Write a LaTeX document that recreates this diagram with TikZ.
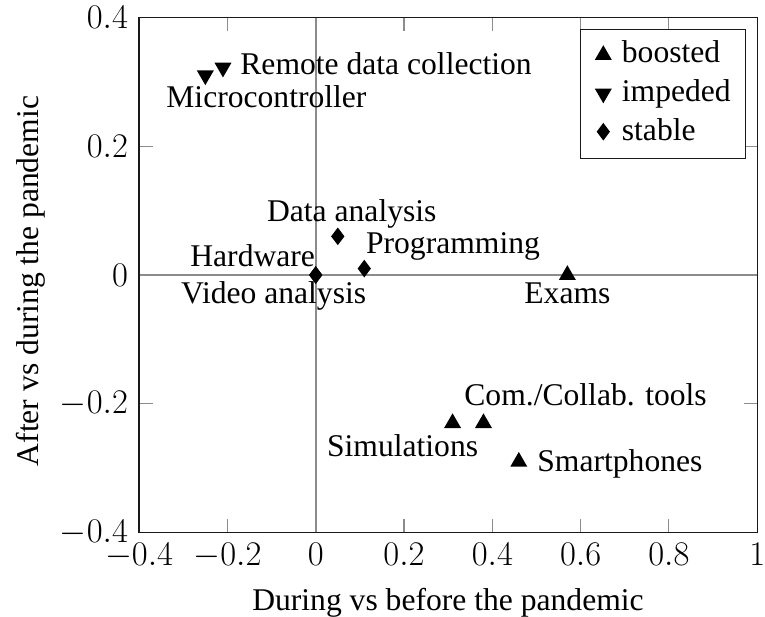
\documentclass[tikz,border=0pt]{standalone}
\usepackage{fontspec}
\setmainfont{Liberation Serif}
\usetikzlibrary{shapes.geometric}
\newcommand{\datx}[1]{315.7+441.5*(#1)}
\newcommand{\daty}[1]{275-644*(#1)}
\begin{document}
\begin{tikzpicture}[x=0.5pt,y=-0.5pt,
  every node/.style={font=\fontsize{15.8}{19}\selectfont},
  lbl/.style={inner sep=0pt, anchor=base west},
  up/.style={regular polygon, regular polygon sides=3, fill=black, draw=none, inner sep=0pt, minimum size=9.8pt},
  down/.style={up, shape border rotate=180},
  dia/.style={diamond, fill=black, draw=none, inner sep=0pt, minimum width=6.8pt, minimum height=9pt},
  tickline/.style={draw=black!45, line width=0.55pt},
  zeroline/.style={draw=black!45, line width=1.1pt},
  frameline/.style={draw=black!90, line width=0.7pt},
  ticklbl/.style={inner sep=0pt, font=\fontsize{16.2}{19}\selectfont}]
\useasboundingbox (0,0) rectangle (765,616);
% zero lines
\draw[zeroline] ({\datx{0}},17.4) -- ({\datx{0}},532.6);
\draw[zeroline] (139.1,275) -- (757.2,275);
% ticks
\foreach \v [count=\i] in {-0.4,-0.2,0,0.2,0.4,0.6,0.8,1} {
  \draw[tickline] ({\datx{\v}},532.6) -- ++(0,-13.7);
  \draw[tickline] ({\datx{\v}},17.4) -- ++(0,13.7);
  \node[ticklbl, anchor=north] (xt\i) at ({\datx{\v}},543) {$\v$};
}
\foreach \v [count=\i] in {-0.4,-0.2,0,0.2,0.4} {
  \draw[tickline] (139.1,{\daty{\v}}) -- ++(13.7,0);
  \draw[tickline] (757.2,{\daty{\v}}) -- ++(-13.7,0);
  \node[ticklbl, anchor=east] (yt\i) at (128.3,{\daty{\v}}) {$\v$};
}
\draw[frameline] (139.1,17.4) rectangle (757.2,532.6);
% axis labels
\node[inner sep=0pt, anchor=base] (xlab) at (448,610) {During vs before the pandemic};
\node[inner sep=0pt, anchor=base, rotate=90] (ylab) at (39,281) {After vs during the pandemic};
% data markers
\node[down] (mc) at ({\datx{-0.25}},{\daty{0.31}}) {};
\node[down] (rdc) at ({\datx{-0.21}},{\daty{0.322}}) {};
\node[dia] (da) at ({\datx{0.05}},{\daty{0.06}}) {};
\node[dia] (pr) at ({\datx{0.11}},{\daty{0.01}}) {};
\node[dia] (hw) at ({\datx{0}},{\daty{0}}) {};
\node[dia] (va) at ({\datx{0}},{\daty{0}}) {};
\node[up] (ex) at ({\datx{0.57}},{\daty{0}}) {};
\node[up] (cct) at ({\datx{0.38}},{\daty{-0.23}}) {};
\node[up] (sim) at ({\datx{0.31}},{\daty{-0.23}}) {};
\node[up] (sp) at ({\datx{0.46}},{\daty{-0.29}}) {};
% data labels
\node[lbl] (rdcl) at (240,74) {Remote data collection};
\node[lbl] (mcl) at (166,107) {Microcontroller};
\node[lbl] (dal) at (266.7,221.7) {Data analysis};
\node[lbl] (prl) at (365.7,253) {Programming};
\node[lbl] (hwl) at (190,266.7) {Hardware};
\node[lbl] (val) at (180.7,303) {Video analysis};
\node[lbl] (exl) at (524,303) {Exams};
\node[lbl] (cctl) at (464,405) {Com./Collab. tools};
\node[lbl] (siml) at (326.7,456.7) {Simulations};
\node[lbl] (spl) at (537,471) {Smartphones};
% legend
\draw[frameline, fill=white] (580.7,29.3) rectangle (745.3,158.3);
\node[up] (lg1) at (603.3,55) {};
\node[down] (lg2) at (603.3,93.5) {};
\node[dia] (lg3) at (603.3,131.7) {};
\node[lbl] (lt1) at (621.5,62.7) {boosted};
\node[lbl] (lt2) at (621.5,101.7) {impeded};
\node[lbl] (lt3) at (621.5,140) {stable};
\end{tikzpicture}
\end{document}
